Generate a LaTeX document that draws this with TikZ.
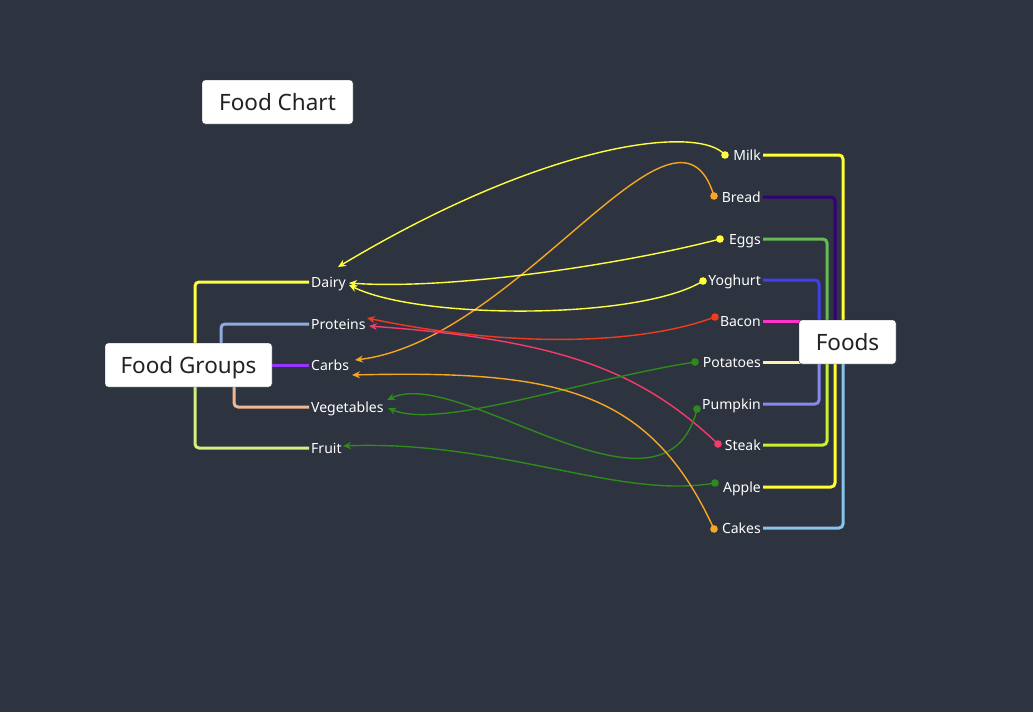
\documentclass[tikz,border=0pt]{standalone}
\usepackage{fontspec}
\setmainfont{Noto Sans}
\usetikzlibrary{arrows.meta}
\definecolor{bg}{RGB}{46,51,64}
\definecolor{cYel}{RGB}{255,255,60}
\definecolor{cOra}{RGB}{245,166,35}
\definecolor{cRed}{RGB}{240,60,30}
\definecolor{cPink}{RGB}{245,59,107}
\definecolor{cGrn}{RGB}{46,138,28}
\definecolor{tDairy}{RGB}{255,255,64}
\definecolor{tProt}{RGB}{143,170,220}
\definecolor{tCarb}{RGB}{153,51,255}
\definecolor{tVeg}{RGB}{240,184,144}
\definecolor{tFruit}{RGB}{212,238,128}
\definecolor{tMilk}{RGB}{255,255,51}
\definecolor{tBread}{RGB}{51,0,119}
\definecolor{tEggs}{RGB}{102,187,85}
\definecolor{tYog}{RGB}{64,64,238}
\definecolor{tBacon}{RGB}{255,51,204}
\definecolor{tPot}{RGB}{255,240,176}
\definecolor{tPump}{RGB}{136,136,238}
\definecolor{tSteak}{RGB}{204,238,51}
\definecolor{tApple}{RGB}{255,255,51}
\definecolor{tCakes}{RGB}{136,196,238}
\definecolor{boxtext}{RGB}{34,34,34}
\tikzset{
  lbl/.style={text=white, font=\fontsize{14}{16}\selectfont, inner xsep=2pt, inner ysep=0pt},
  tree/.style={line width=3pt, rounded corners=4pt},
  link/.style={line width=1.4pt, -{Stealth[length=8pt,width=7pt]}},
  dotc/.style={radius=3.8pt},
  titlebox/.style={fill=white, draw=bg!80!black, rounded corners=3pt, text=boxtext,
    font=\fontsize{22.5}{26}\selectfont, minimum height=44pt, inner sep=0pt,
    text height=16pt, text depth=0pt},
}
\begin{document}
\begin{tikzpicture}[x=1pt,y=-1pt]
\fill[bg] (0,0) rectangle (1033,712);
\useasboundingbox (0,0) rectangle (1033,712);

% left labels
\node[lbl, anchor=base west] (Dairy) at (309,287) {Dairy};
\node[lbl, anchor=base west] (Proteins) at (309,329) {Proteins};
\node[lbl, anchor=base west] (Carbs) at (309,370) {Carbs};
\node[lbl, anchor=base west] (Vegetables) at (309,412) {Vegetables};
\node[lbl, anchor=base west] (Fruit) at (309,453) {Fruit};

% right labels
\node[lbl, anchor=base east] (Milk) at (763,160) {Milk};
\node[lbl, anchor=base east] (Bread) at (763,202) {Bread};
\node[lbl, anchor=base east] (Eggs) at (763,244) {Eggs};
\node[lbl, anchor=base east] (Yoghurt) at (763,285) {Yoghurt};
\node[lbl, anchor=base east] (Bacon) at (763,326) {Bacon};
\node[lbl, anchor=base east] (Potatoes) at (763,367) {Potatoes};
\node[lbl, anchor=base east] (Pumpkin) at (763,409) {Pumpkin};
\node[lbl, anchor=base east] (Steak) at (763,450) {Steak};
\node[lbl, anchor=base east] (Apple) at (763,492) {Apple};
\node[lbl, anchor=base east] (Cakes) at (763,533) {Cakes};

% junction coordinates
\coordinate (jDairy) at (195,365);
\coordinate (jFruit) at (195,365);
\coordinate (jProt) at (221,365);
\coordinate (jVeg) at (234,365);
\coordinate (jCarb) at (250,365);
\coordinate (jMilk) at (843,342);
\coordinate (jBread) at (835,342);
\coordinate (jEggs) at (827,342);
\coordinate (jYog) at (819,342);
\coordinate (jBacon) at (847,321);
\coordinate (jPot) at (847,362);
\coordinate (jPump) at (819,342);
\coordinate (jSteak) at (827,342);
\coordinate (jApple) at (835,342);
\coordinate (jCakes) at (843,342);

% left tree
\draw[tree, tDairy] (Dairy.west |- 0,282) -| (jDairy);
\draw[tree, tFruit] (Fruit.west |- 0,448) -| (jFruit);
\draw[tree, tProt] (Proteins.west |- 0,324) -| (jProt);
\draw[tree, tVeg] (Vegetables.west |- 0,407) -| (jVeg);
\draw[tree, tCarb] (Carbs.west |- 0,365) -- (jCarb);

% right tree
\draw[tree, tMilk] (Milk.east |- 0,155) -| (jMilk);
\draw[tree, tBread] (Bread.east |- 0,197) -| (jBread);
\draw[tree, tEggs] (Eggs.east |- 0,239) -| (jEggs);
\draw[tree, tYog] (Yoghurt.east |- 0,280) -| (jYog);
\draw[tree, tBacon] (Bacon.east |- 0,321) -- (jBacon);
\draw[tree, tPot] (Potatoes.east |- 0,362) -- (jPot);
\draw[tree, tPump] (Pumpkin.east |- 0,404) -| (jPump);
\draw[tree, tSteak] (Steak.east |- 0,445) -| (jSteak);
\draw[tree, tApple] (Apple.east |- 0,487) -| (jApple);
\draw[tree, tCakes] (Cakes.east |- 0,528) -| (jCakes);

% link endpoints
\coordinate (dMilk) at (725,155);
\coordinate (dBread) at (714,196);
\coordinate (dEggs) at (720,239);
\coordinate (dYog) at (703,281);
\coordinate (dBacon) at (715,317);
\coordinate (dPot) at (695,362);
\coordinate (dPump) at (697,409);
\coordinate (dSteak) at (718,444);
\coordinate (dApple) at (715,483);
\coordinate (dCakes) at (714,529);

\coordinate (aDairyA) at (338,267);
\coordinate (aDairyB) at (349,283);
\coordinate (aDairyC) at (349,285);
\coordinate (aCarbA) at (355,360);
\coordinate (aCarbB) at (352,375);
\coordinate (aProtA) at (367,318);
\coordinate (aProtB) at (369,326);
\coordinate (aVegA) at (388,408);
\coordinate (aVegB) at (387,400);
\coordinate (aFruit) at (343,446);

% links
\draw[link, cYel] (dMilk) .. controls (700,125) and (550,140) .. (aDairyA);
\draw[link, cOra] (dBread) .. controls (676,70) and (520,340) .. (aCarbA);
\draw[link, cYel] (dEggs) .. controls (620,265) and (450,290) .. (aDairyB);
\draw[link, cYel] (dYog) .. controls (640,320) and (420,320) .. (aDairyC);
\draw[link, cRed] (dBacon) .. controls (640,345) and (510,348) .. (aProtA);
\draw[link, cPink] (dSteak) .. controls (640,370) and (560,340) .. (aProtB);
\draw[link, cGrn] (dPot) .. controls (580,380) and (440,430) .. (aVegA);
\draw[link, cGrn] (dPump) .. controls (665,540) and (460,365) .. (aVegB);
\draw[link, cGrn] (dApple) .. controls (620,500) and (500,440) .. (aFruit);
\draw[link, cOra] (dCakes) .. controls (650,390) and (560,370) .. (aCarbB);

% dots
\fill[cYel] (dMilk) circle[dotc];
\fill[cOra] (dBread) circle[dotc];
\fill[cYel] (dEggs) circle[dotc];
\fill[cYel] (dYog) circle[dotc];
\fill[cRed] (dBacon) circle[dotc];
\fill[cGrn] (dPot) circle[dotc];
\fill[cGrn] (dPump) circle[dotc];
\fill[cPink] (dSteak) circle[dotc];
\fill[cGrn] (dApple) circle[dotc];
\fill[cOra] (dCakes) circle[dotc];

% title boxes
\node[titlebox, minimum width=151pt] (FoodChart) at (277.5,102) {Food Chart};
\node[titlebox, minimum width=167pt] (FoodGroups) at (188.5,365) {Food Groups};
\node[titlebox, minimum width=97pt] (Foods) at (847.5,342) {Foods};
\end{tikzpicture}
\end{document}
